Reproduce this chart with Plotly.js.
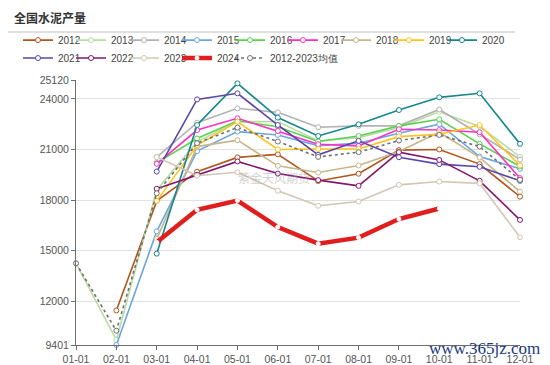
<!DOCTYPE html>
<html><head><meta charset="utf-8">
<script src="https://cdn.plot.ly/plotly-3.0.1.min.js"></script>
<style>html,body{margin:0;padding:0;background:#fff}#chart{width:550px;height:365px}</style>
</head><body><div id="chart"></div>
<script>
const months = ['01-01','02-01','03-01','04-01','05-01','06-01','07-01','08-01','09-01','10-01','11-01','12-01'];
const yTickVals = [9401, 12000, 15000, 18000, 21000, 24000, 25120];
const yTickText = ['9401', '12000', '15000', '18000', '21000', '24000', '25120'];

const s2012 = [null, 11450, 17950, 19680, 20530, 20710, 19130, 19560, 20960, 21000, 20130, 18200];
const s2013 = [14250, 9700, 18600, 21450, 22650, 22650, 21500, 21700, 22300, 23230, 22360, 20560];
const s2014 = [null, null, 20550, 22590, 23440, 23200, 22320, 22400, 22400, 23370, 21900, 20400];
const s2015 = [null, 9401, 16140, 20900, 22060, 21860, 21230, 21370, 21960, 22500, 20580, 19850];
const s2016 = [null, null, 20200, 21650, 22700, 22350, 21470, 21800, 22400, 22790, 21330, 19990];
const s2017 = [null, null, 20150, 22150, 22850, 22100, 21310, 21210, 22200, 22150, 22020, 19300];
const s2018 = [null, null, 15700, 21170, 21550, 20030, 19630, 20050, 20880, 22020, 20520, 18500];
const s2019 = [null, null, 17950, 21250, 22650, 21000, 21030, 21030, 21760, 21900, 22450, 20050];
const s2020 = [null, null, 14820, 22450, 24920, 22890, 21800, 22490, 23340, 24090, 24330, 21330];
const s2021 = [null, null, 19690, 23970, 24330, 22450, 20680, 21510, 20540, 20130, 19970, 19140];
const s2022 = [null, null, 18670, 19500, 20290, 19570, 19180, 18840, 20840, 20380, 19140, 16820];
const s2023 = [null, null, 20550, 19440, 19650, 18550, 17660, 17910, 18900, 19100, 18990, 15790];
const s2024 = [null, null, 15490, 17420, 17970, 16400, 15410, 15770, 16870, 17500, null, null];
const sAvg  = [14250, 10250, 18400, 21370, 22300, 21470, 20560, 20840, 21530, 21860, 21170, 19200];

const names  = ['2012','2013','2014','2015','2016','2017','2018','2019','2020','2021','2022','2023','2024','2012-2023均值'];
const series = [s2012,s2013,s2014,s2015,s2016,s2017,s2018,s2019,s2020,s2021,s2022,s2023,s2024,sAvg];
const colors = ['#b0561e','#b9dca4','#b2b2b2','#6aa6e0','#5ad24e','#ff2fc4','#c7b68a','#ffc21a','#17868f','#5a46a8','#86166c','#d3c6b2','#e01e1e','#707070'];

const traces = series.map((ys, i) => {
  const isAvg = i === 13, isNow = i === 12;
  const t = {
    type: 'scatter', mode: 'lines+markers', x: months, y: ys, name: names[i],
    legend: i < 9 ? 'legend' : 'legend2',
    connectgaps: false, cliponaxis: false,
    line: {color: colors[i], width: isNow ? 4.5 : 1.6, dash: isAvg ? 'dot' : 'solid'},
    marker: {symbol: 'circle', size: isNow ? 4 : 5, color: '#ffffff', line: {color: isNow ? '#ffffff' : colors[i], width: 1}},
    hoverinfo: 'x+y+name'
  };
  if (i === 8) t.legendwidth = 30;
  if (i === 13) t.legendwidth = 80;
  return t;
});

const W = 444, H = 265.5, L = 76, T = 80;
const px = x => (x - L) / W;
const py = y => (T + H - y) / H;

const legendBase = {
  orientation: 'h', xref: 'paper', yref: 'paper', xanchor: 'left', yanchor: 'middle',
  x: px(18), entrywidth: 8, entrywidthmode: 'pixels',
  font: {family: 'Liberation Sans, Arial, sans-serif', size: 10, color: '#444'},
  bgcolor: 'rgba(0,0,0,0)', borderwidth: 0, traceorder: 'normal', tracegroupgap: 0
};

const layout = {
  width: 550, height: 365,
  margin: {l: L, r: 550 - L - W, t: T, b: 365 - T - H, pad: 0},
  paper_bgcolor: '#ffffff', plot_bgcolor: '#ffffff',
  font: {family: 'Liberation Sans, Arial, sans-serif', size: 10.5, color: '#666'},
  title: {text: '全国水泥产量', xref: 'container', yref: 'container', x: 14/550, xanchor: 'left', y: 1 - 19/365, yanchor: 'middle',
          font: {family: 'Noto Sans CJK SC, sans-serif', size: 12, weight: 'bold', color: '#333'}},
  showlegend: true,
  legend: Object.assign({}, legendBase, {y: py(40)}),
  legend2: Object.assign({}, legendBase, {y: py(58)}),
  xaxis: {
    type: 'category', range: [0, 11], showgrid: false, zeroline: false,
    showline: true, linecolor: '#6e6e6e', linewidth: 1,
    ticks: 'outside', ticklen: 4, tickcolor: '#6e6e6e',
    tickfont: {size: 10.5, color: '#555'}, fixedrange: true
  },
  yaxis: {
    range: [9401, 25120], tickmode: 'array', tickvals: yTickVals, ticktext: yTickText,
    showgrid: true, gridcolor: '#e2e2e2', gridwidth: 1, zeroline: false,
    showline: true, linecolor: '#6e6e6e', linewidth: 1,
    ticks: 'outside', ticklen: 4, tickcolor: '#6e6e6e',
    tickfont: {size: 10.5, color: '#555'}, fixedrange: true
  },
  shapes: [{type: 'line', xref: 'paper', yref: 'paper', x0: px(8), x1: px(515), y0: py(32), y1: py(32),
            line: {color: '#d4d4d4', width: 1.5}}],
  annotations: [
    {text: '紫金天风期货', xref: 'paper', yref: 'paper', x: px(274), y: py(178), showarrow: false,
     font: {family: 'Noto Sans CJK SC, sans-serif', size: 12, color: 'rgba(150,150,150,0.45)'}},
    {text: 'www.365jz.com', xref: 'paper', yref: 'paper', x: px(427), xanchor: 'left', y: py(349), yanchor: 'middle', showarrow: false,
     font: {family: 'Liberation Serif, Times New Roman, serif', size: 17, color: '#1a3a85'}}
  ]
};

Plotly.newPlot('chart', traces, layout, {displayModeBar: false, staticPlot: true});
</script>
</body></html>
